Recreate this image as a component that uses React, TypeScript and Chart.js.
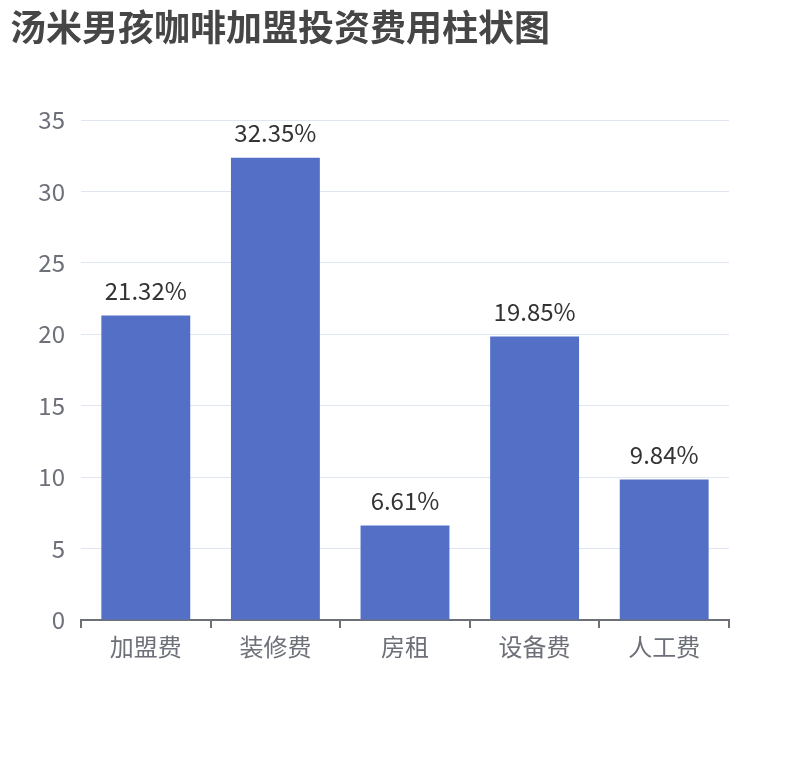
import React, { useEffect, useRef } from "react";
import { Chart, registerables } from "chart.js";

Chart.register(...registerables);

const titleText = "汤米男孩咖啡加盟投资费用柱状图";
const categories = ["加盟费", "装修费", "房租", "设备费", "人工费"];
const values = [21.32, 32.35, 6.61, 19.85, 9.84];
const yTicks = { min: 0, max: 35, step: 5 };

const FONT = "'Noto Sans CJK SC', 'Noto Sans', sans-serif";

const titlePlugin = {
  id: "customTitle",
  afterDraw(chart: any) {
    const ctx = chart.ctx;
    ctx.save();
    ctx.font = `bold 36px ${FONT}`;
    ctx.fillStyle = "#464646";
    ctx.textAlign = "left";
    ctx.textBaseline = "middle";
    ctx.fillText(titleText, 10, 27);
    ctx.restore();
  },
};

const labelPlugin = {
  id: "barLabels",
  afterDatasetsDraw(chart: any) {
    const ctx = chart.ctx;
    const meta = chart.getDatasetMeta(0);
    ctx.save();
    ctx.font = `24px ${FONT}`;
    ctx.fillStyle = "#333333";
    ctx.textAlign = "center";
    ctx.textBaseline = "middle";
    meta.data.forEach((bar: any, i: number) => {
      ctx.fillText(values[i].toFixed(2) + "%", bar.x, bar.y - 25);
    });
    ctx.restore();
  },
};

export default function App() {
  const ref = useRef<HTMLCanvasElement>(null);
  useEffect(() => {
    const chart = new Chart(ref.current!, {
      type: "bar",
      data: {
        labels: categories,
        datasets: [
          {
            data: values,
            backgroundColor: "#5470c6",
            barPercentage: 0.686,
            categoryPercentage: 1,
          },
        ],
      },
      options: {
        animation: false,
        responsive: false,
        maintainAspectRatio: false,
        layout: { padding: { left: 0, right: 81, top: 120, bottom: 0 } },
        plugins: { legend: { display: false }, tooltip: { enabled: false }, title: { display: false } },
        scales: {
          x: {
            afterFit(scale: any) {
              scale.height = 140;
            },
            border: { display: true, color: "#6e7079", width: 2 },
            grid: {
              display: true,
              drawOnChartArea: false,
              drawTicks: true,
              tickLength: 8,
              lineWidth: 2,
              color: "#6e7079",
              offset: true,
            },
            ticks: {
              color: "#6e7079",
              font: { family: FONT, size: 24 },
              padding: 4,
              maxRotation: 0,
              autoSkip: false,
            },
          },
          y: {
            min: yTicks.min,
            max: yTicks.max,
            afterFit(scale: any) {
              scale.width = 81;
            },
            border: { display: false },
            grid: { color: "#e0e6f1", drawTicks: false, lineWidth: 1 },
            ticks: {
              stepSize: yTicks.step,
              color: "#6e7079",
              font: { family: FONT, size: 24 },
              padding: 16,
            },
          },
        },
      },
      plugins: [titlePlugin, labelPlugin],
    } as any);
    return () => chart.destroy();
  }, []);
  return (
    <div style={{ position: "fixed", left: 0, top: 0, width: 810, height: 760, background: "#fff" }}>
      <canvas ref={ref} width={810} height={760} style={{ width: 810, height: 760 }} />
    </div>
  );
}
